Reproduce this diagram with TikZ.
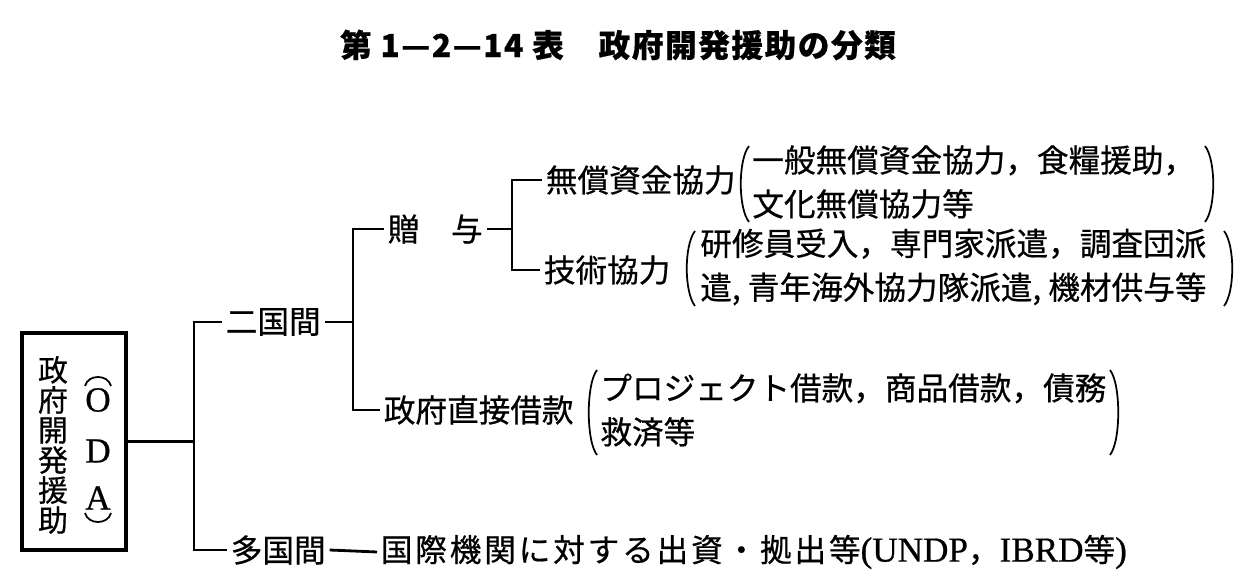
\documentclass[tikz,border=0pt]{standalone}
\usepackage{fontspec}
\setmainfont{Noto Sans CJK JP}[FakeBold=0.6]
\newfontfamily\lat{Liberation Serif}[FakeBold=0.6]
\usepackage{tikz}
\usetikzlibrary{positioning, calc}

\begin{document}
\begin{tikzpicture}[x=0.02cm, y=-0.02cm,
    lbl/.style={inner sep=2pt, anchor=west, font=\fontsize{18}{25}\selectfont},
    naiyo/.style={inner sep=0pt, anchor=west, align=left, font=\fontsize{18}{25}\selectfont},
    conn/.style={line width=1.6pt},
    paren/.style={line width=1pt},
    odaletter/.style={inner sep=0pt, font=\lat\fontsize{20}{20}\selectfont}]
        % Page frame
        \useasboundingbox (0,0) rectangle (1245,577);

        % Title
        \node[font=\bfseries\fontsize{18}{18}\selectfont\addfontfeature{LetterSpace=5}] (title) at (618,45) {第 1—2—14 表　政府開発援助の分類};

        % ODA box
        \node[draw, line width=2pt, minimum width=2.08cm, minimum height=4.34cm, inner sep=0pt] (oda) at (74,441.5) {};
        \node[inner sep=0pt, align=center, font=\fontsize{17}{17.1}\selectfont] (odaJa) at (53,445) {政\\府\\開\\発\\援\\助};
        \node[odaletter] (odaO) at (98,400) {O};
        \node[odaletter] (odaD) at (98,451) {D};
        \node[odaletter] (odaA) at (98,498) {A};
        \draw[paren] (85,386) .. controls (88,374) and (108,374) .. (111,386);
        \draw[paren] (85,513) .. controls (88,525) and (108,525) .. (111,513);

        % Labels of the tree
        \node[lbl] (nikoku) at (222,322) {二国間};
        \node[lbl] (takoku) at (227,550) {多国間};
        \node[lbl] (zoyo) at (384,229) {贈　与};
        \node[lbl] (shakkan) at (380,410) {政府直接借款};
        \node[lbl] (mushou) at (542,180) {無償資金協力};
        \node[lbl] (gijutsu) at (540,270) {技術協力};
        \node[lbl, font=\fontsize{18}{25}\selectfont\addfontfeature{LetterSpace=9}] (kikan) at (377,552)
            {国際機関に対する出資・拠出等{\lat\fontsize{20}{20}\selectfont (UNDP}，{\lat\fontsize{20}{20}\selectfont IBRD}等{\lat\fontsize{20}{20}\selectfont )}};

        % Contents in brackets
        \node[naiyo] (mushouNaiyo) at (752,182) {一般無償資金協力，食糧援助，\\文化無償協力等};
        \node[naiyo] (gijutsuNaiyo) at (700,267) {研修員受入，専門家派遣，調査団派\\遣, 青年海外協力隊派遣, 機材供与等};
        \node[naiyo] (shakkanNaiyo) at (600,410) {プロジェクト借款，商品借款，債務\\救済等};

        % Brackets
        \draw[paren] (749,146) .. controls (738,160) and (738,208) .. (749,222);
        \draw[paren] (1205,146) .. controls (1216,160) and (1216,208) .. (1205,222);
        \draw[paren] (695,231) .. controls (684,245) and (684,292) .. (695,306);
        \draw[paren] (1224,231) .. controls (1235,245) and (1235,292) .. (1224,306);
        \draw[paren] (597,370) .. controls (586,384) and (586,441) .. (597,455);
        \draw[paren] (1110,370) .. controls (1121,384) and (1121,441) .. (1110,455);

        % Junctions
        \coordinate (j1) at (194,441.5);
        \coordinate (j2) at (353,322);
        \coordinate (j3) at (512,229);

        % Draw connectors
        \draw[conn] (oda.east) -- (j1);
        \draw[conn] (nikoku.west) -| (j1) |- (takoku.west);
        \draw[conn] (nikoku.east) -- (j2);
        \draw[conn] (zoyo.west) -| (j2) |- (shakkan.west);
        \draw[conn] (zoyo.east) -- (j3);
        \draw[conn] (mushou.west) -| (j3) |- (gijutsu.west);
        \draw[conn] (takoku.east) -- (kikan.west);
    \end{tikzpicture}
\end{document}
